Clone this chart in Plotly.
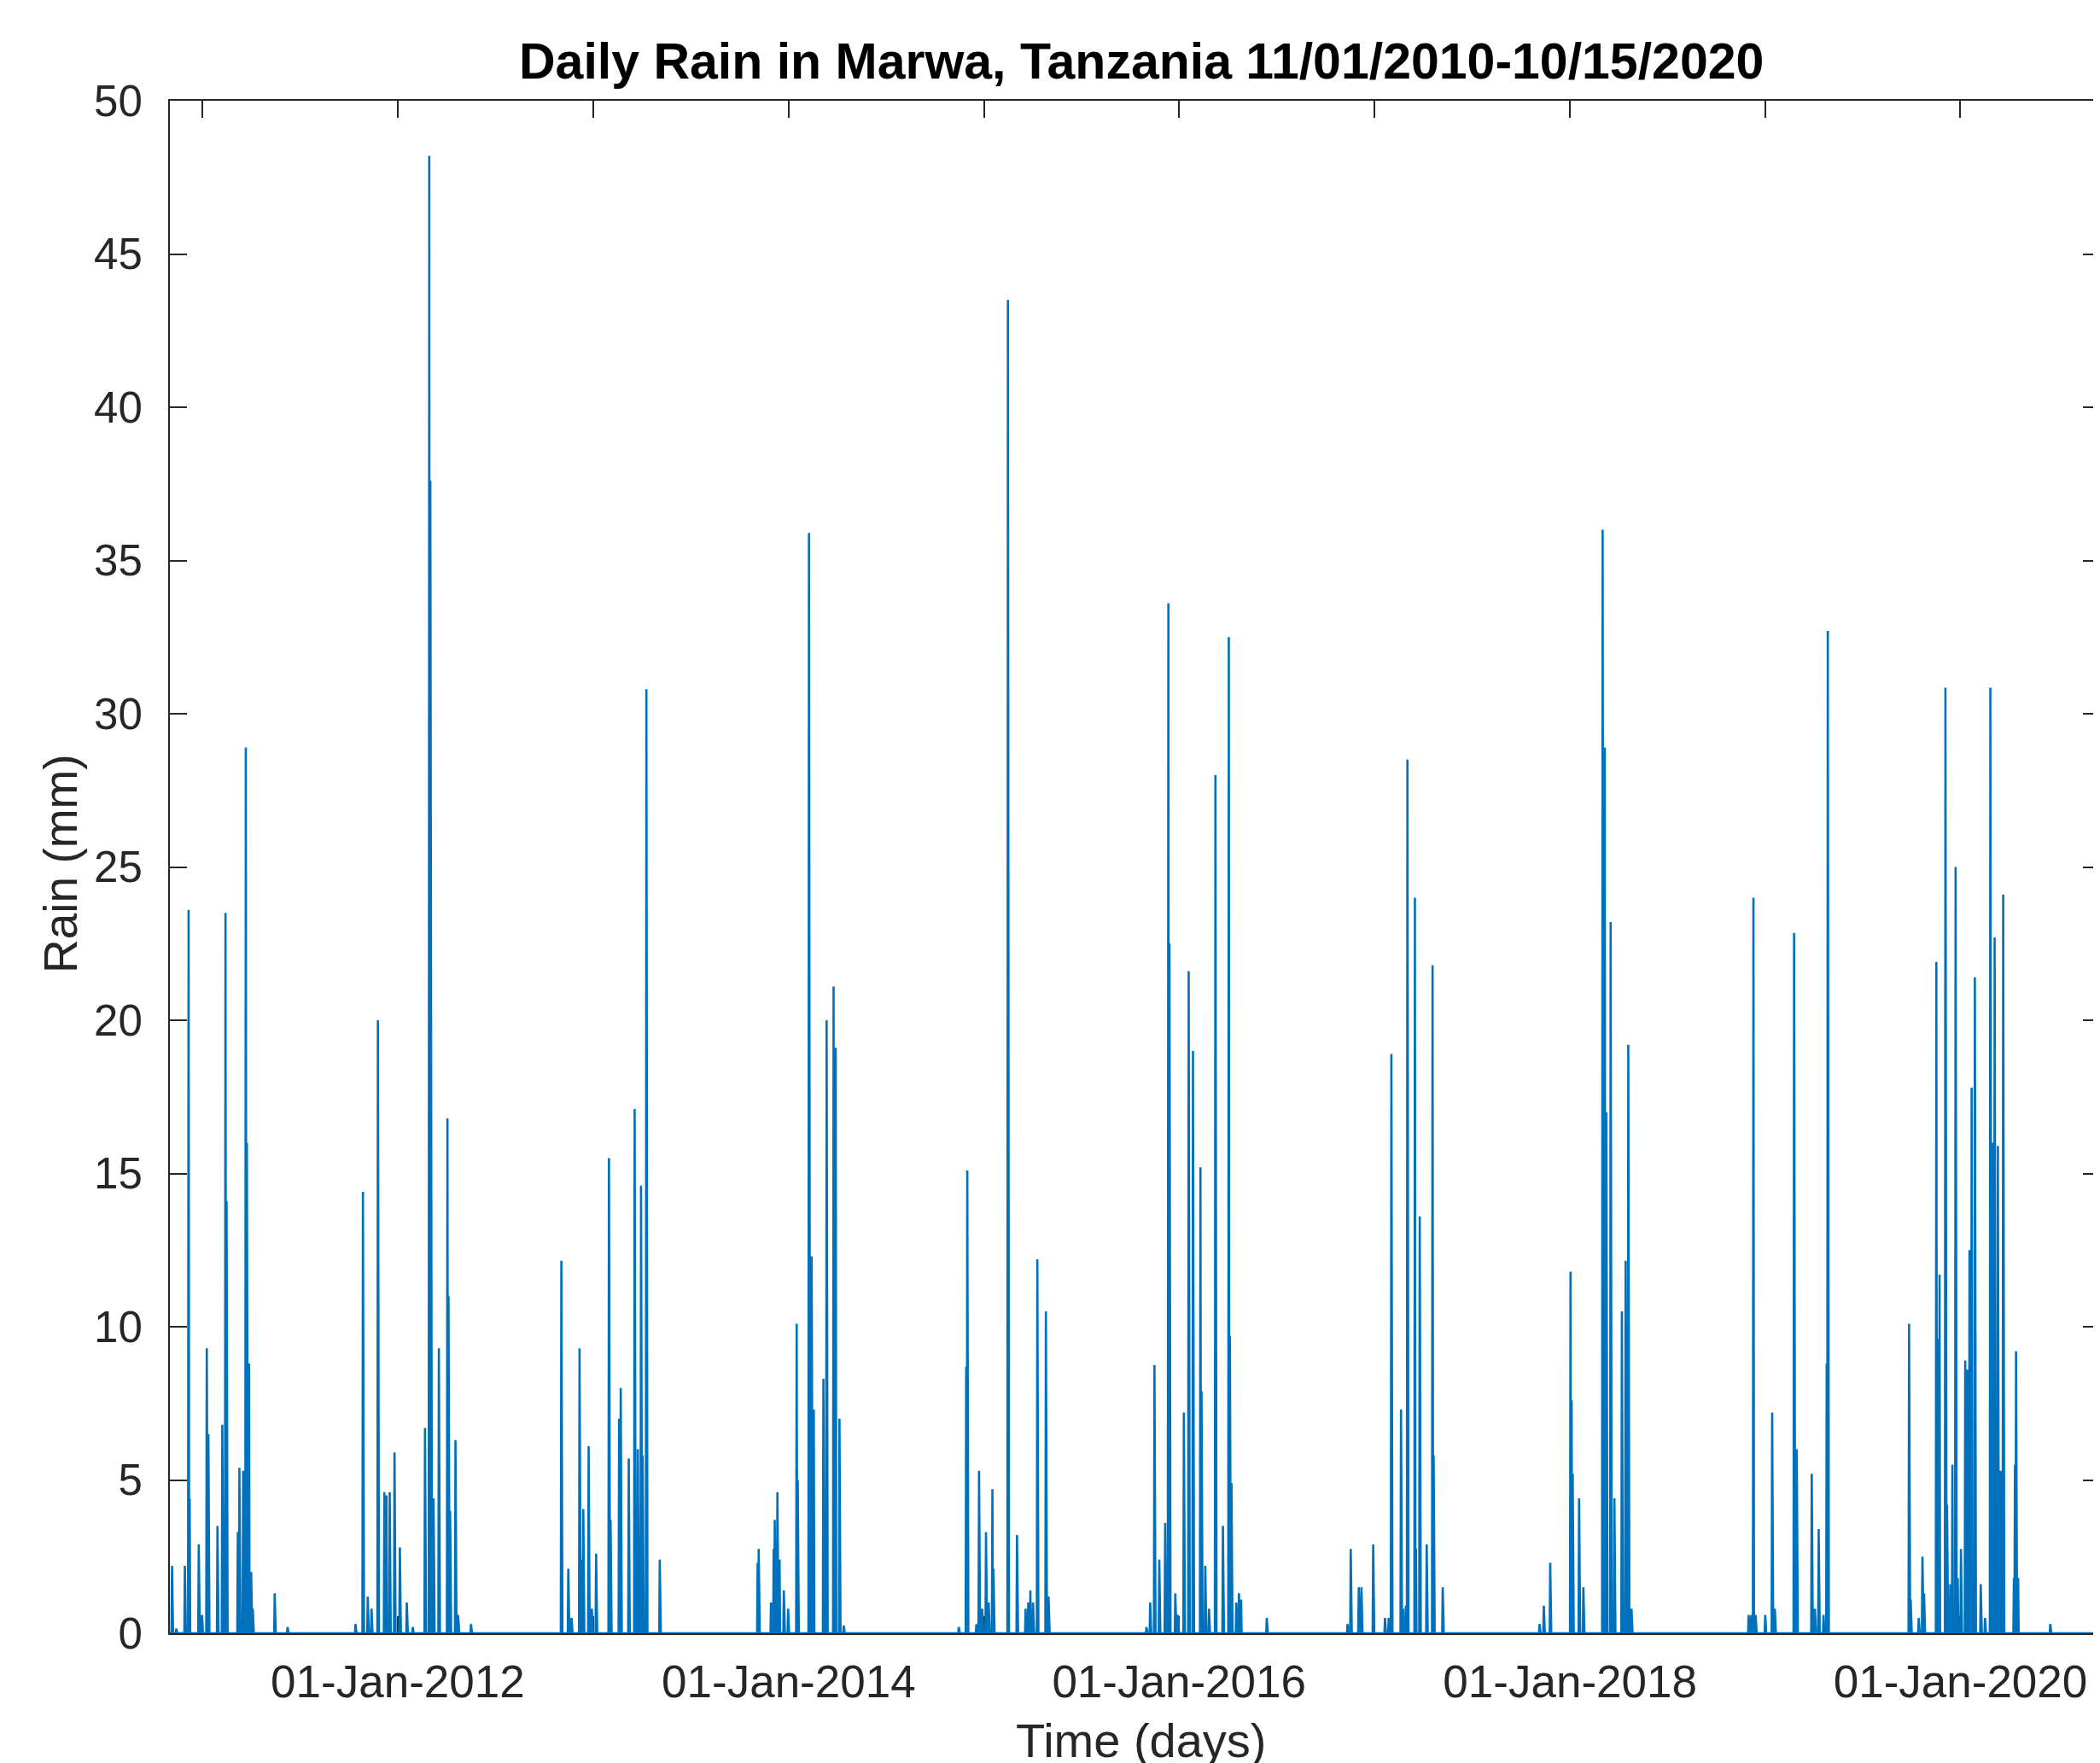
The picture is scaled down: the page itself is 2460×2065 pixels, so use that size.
import pandas as pd
import plotly.graph_objects as go

# ---- data ----
start_date = "2010-11-01"
end_date = "2020-10-15"

# rain events: day offset from start_date, and rain in mm
event_days = [
    4, 12, 28, 35, 37, 54, 60, 69, 72, 89, 98, 104, 106, 127, 130, 137, 142, 144, 148, 152, 155, 196, 220,
    347, 361, 370, 377, 389, 390, 401, 405, 411, 420, 430, 443, 454, 477, 485, 487, 488, 493, 503, 519, 521, 524, 534, 539, 563,
    732, 745, 751, 766, 770, 773, 783, 789, 797, 821, 824, 840, 843, 858, 869, 875, 881, 884, 891, 916,
    1099, 1101, 1124, 1129, 1131, 1136, 1140, 1148, 1156, 1172, 1174, 1195, 1200, 1204, 1222, 1228, 1241, 1245, 1252, 1260,
    1475, 1489, 1491, 1508, 1513, 1519, 1526, 1531, 1538, 1540, 1567, 1584, 1600, 1605, 1609, 1614, 1622, 1638, 1643,
    1826, 1833, 1841, 1850, 1861, 1867, 1869, 1880, 1885, 1896, 1905, 1913, 1927, 1929, 1936, 1943, 1955, 1969, 1980, 1982, 1985, 1994, 1999, 2003, 2051,
    2202, 2208, 2223, 2228, 2250, 2272, 2279, 2284, 2302, 2306, 2311, 2314, 2328, 2330, 2337, 2350, 2361, 2363, 2380,
    2561, 2569, 2581, 2619, 2621, 2623, 2635, 2643, 2679, 2683, 2686, 2694, 2701, 2715, 2722, 2727, 2733,
    2952, 2957, 2961, 2965, 2983, 2996, 3001, 3037, 3042, 3070, 3076, 3083, 3092, 3098, 3100,
    3252, 3255, 3270, 3277, 3280, 3303, 3305, 3309, 3320, 3323, 3329, 3333, 3339, 3343, 3349, 3357, 3361, 3365, 3369, 3375,
    3386, 3394, 3404, 3408, 3412, 3418, 3423, 3428, 3448, 3450, 3452, 3456, 3516,
]
event_rain = [
    2.2, 0.15, 2.2, 23.6, 4.4, 2.9, 0.6, 9.3, 6.5, 3.5, 6.8, 23.5, 14.1, 3.3, 5.4, 5.3, 28.9, 16.0, 8.8, 2.0, 0.8, 1.3, 0.2,
    0.3, 14.4, 1.2, 0.8, 20.0, 4.9, 4.6, 4.5, 4.6, 5.9, 2.8, 1.0, 0.2, 6.7, 48.2, 37.6, 18.1, 4.4, 9.3, 16.8, 11.0, 4.0, 6.3, 0.6, 0.3,
    12.15, 2.1, 0.5, 9.3, 2.4, 4.05, 6.1, 0.8, 2.6, 15.5, 3.7, 7.0, 8.0, 5.7, 17.1, 6.0, 14.6, 5.8, 30.8, 2.4,
    2.3, 2.75, 1.0, 2.75, 3.7, 4.6, 2.4, 1.4, 0.8, 10.1, 5.0, 35.9, 12.3, 7.3, 8.3, 20.0, 21.1, 19.1, 7.0, 0.25,
    0.2, 8.7, 15.1, 0.3, 5.3, 0.8, 3.3, 1.0, 4.7, 2.1, 43.5, 3.2, 0.8, 1.0, 1.4, 1.0, 12.2, 10.5, 1.2,
    0.2, 1.0, 8.75, 2.4, 3.6, 33.6, 22.5, 1.3, 0.6, 7.2, 21.6, 19.0, 15.2, 7.9, 2.2, 0.8, 28.0, 3.5, 32.5, 9.7, 4.9, 1.0, 1.3, 1.1, 0.5,
    0.3, 2.75, 1.5, 1.5, 2.9, 0.5, 0.5, 18.9, 7.3, 0.8, 0.9, 28.5, 24.0, 2.75, 13.6, 2.9, 21.8, 5.8, 1.5,
    0.3, 0.9, 2.3, 11.8, 7.6, 5.2, 4.4, 1.5, 36.0, 28.9, 17.0, 23.2, 4.4, 10.5, 12.15, 19.2, 0.8,
    0.6, 0.6, 24.0, 0.6, 0.6, 7.2, 0.8, 22.85, 6.0, 5.2, 0.8, 3.4, 0.6, 8.8, 32.7,
    10.1, 1.1, 0.5, 2.5, 1.3, 21.9, 9.6, 11.7, 30.85, 4.2, 1.6, 5.5, 25.0, 1.8, 2.75, 8.9, 8.6, 12.5, 17.8, 21.4,
    1.6, 0.5, 30.85, 16.0, 22.7, 15.9, 5.3, 24.1, 1.8, 5.5, 9.2, 1.8, 0.3,
]

y_ticks = [0, 5, 10, 15, 20, 25, 30, 35, 40, 45, 50]
x_tick_dates = ["2011-01-01", "2012-01-01", "2013-01-01", "2014-01-01", "2015-01-01",
                "2016-01-01", "2017-01-01", "2018-01-01", "2019-01-01", "2020-01-01"]
x_tick_text = ["", "01-Jan-2012", "", "01-Jan-2014", "", "01-Jan-2016",
               "", "01-Jan-2018", "", "01-Jan-2020"]

title_text = "Daily Rain in Marwa, Tanzania 11/01/2010-10/15/2020"
x_title = "Time (days)"
y_title = "Rain (mm)"

# ---- build daily series ----
dates = pd.date_range(start_date, end_date, freq="D")
rain = pd.Series(0.0, index=dates)
for d, v in zip(event_days, event_rain):
    rain.iloc[d] = v

# ---- figure geometry (page pixels; the page body adds an 8px margin) ----
OFF = 8
W, H = 2460 - OFF, 2065 - OFF
L, T, B = 199 - OFF, 118 - OFF, 1913 - OFF   # plot area left / top / bottom in figure px
plot_w = W - L
plot_h = B - T

def px_x(x_page):
    return (x_page - OFF - L) / plot_w

def px_y(y_page):
    return (B - (y_page - OFF)) / plot_h

FONT = "Liberation Sans, Arial, Helvetica, sans-serif"
AX = "#262626"

fig = go.Figure()
fig.add_trace(go.Scatter(
    x=rain.index, y=rain.values, mode="lines",
    line=dict(color="#0072BD", width=2.6),
    hoverinfo="skip", showlegend=False,
))
# empty trace so the right-hand tick axis is drawn
fig.add_trace(go.Scatter(x=[], y=[], yaxis="y2", showlegend=False))

fig.update_layout(
    width=W, height=H,
    margin=dict(l=L, r=0, t=T, b=H - B),
    paper_bgcolor="white", plot_bgcolor="white",
    font=dict(family=FONT, color=AX),
    showlegend=False,
    xaxis=dict(
        type="date",
        range=["2010-11-01", "2020-09-18"],
        tickvals=x_tick_dates, ticktext=x_tick_text,
        ticks="inside", ticklen=20, tickwidth=2, tickcolor=AX,
        showline=True, linecolor=AX, linewidth=2, mirror="ticks",
        showgrid=False, zeroline=False,
        tickfont=dict(size=53, color=AX, family=FONT),
        ticklabelstandoff=9,
        layer="below traces",
    ),
    yaxis=dict(
        range=[0, 50], tickvals=y_ticks,
        ticks="inside", ticklen=20, tickwidth=2, tickcolor=AX,
        showline=True, linecolor=AX, linewidth=2,
        showgrid=False, zeroline=False,
        tickfont=dict(size=51, color=AX, family=FONT),
        ticklabelstandoff=20,
        layer="below traces",
    ),
    yaxis2=dict(
        overlaying="y", side="right", range=[0, 50], tickvals=y_ticks,
        ticks="inside", ticklen=20, tickwidth=2, tickcolor=AX,
        showticklabels=False, showline=False, showgrid=False, zeroline=False,
    ),
    annotations=[
        dict(text="<b>" + title_text + "</b>", xref="paper", yref="paper",
             x=px_x(1337), y=px_y(72), xanchor="center", yanchor="middle",
             showarrow=False, font=dict(size=59, color="black", family=FONT)),
        dict(text=x_title, xref="paper", yref="paper",
             x=px_x(1337), y=px_y(2038), xanchor="center", yanchor="middle",
             showarrow=False, font=dict(size=56, color=AX, family=FONT)),
        dict(text=y_title, xref="paper", yref="paper", textangle=-90,
             x=px_x(71), y=px_y(1012), xanchor="center", yanchor="middle",
             showarrow=False, font=dict(size=55, color=AX, family=FONT)),
    ],
)

fig.write_html("out.html")
